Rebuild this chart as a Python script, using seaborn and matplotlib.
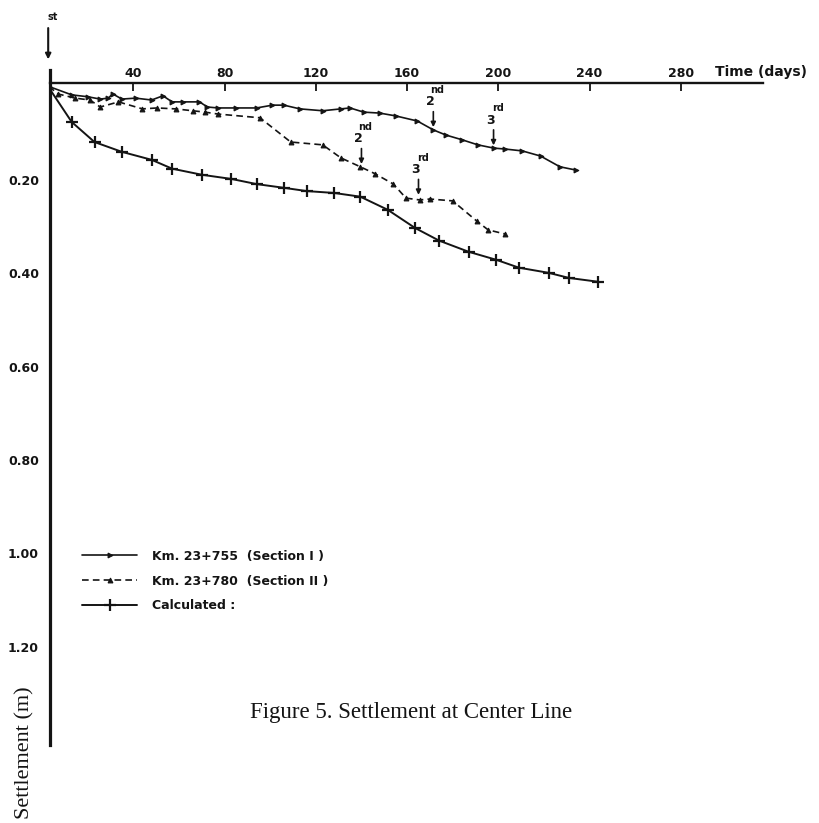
import numpy as np
import pandas as pd
import seaborn as sns
import matplotlib.pyplot as plt

# Settlement readings (days, metres)
days_sec1 = [3, 13, 20, 25.5, 29, 31, 35, 41, 48, 53, 57, 62, 69, 72.5, 77, 85, 94, 101, 106, 113,
             123, 131, 135, 141, 148, 155, 164.5, 171.5, 177, 184, 191, 198, 203, 210.5, 218.5, 227, 234]
settle_sec1 = [0.0, 0.018, 0.022, 0.027, 0.025, 0.016, 0.027, 0.025, 0.029, 0.020, 0.033, 0.033, 0.033,
               0.044, 0.046, 0.046, 0.046, 0.040, 0.040, 0.048, 0.052, 0.048, 0.046, 0.055, 0.057, 0.063,
               0.074, 0.093, 0.104, 0.114, 0.125, 0.132, 0.134, 0.138, 0.149, 0.172, 0.179]

days_sec2 = [3, 7, 14.5, 21, 25.5, 33.5, 44, 50.5, 58.5, 66, 71.5, 77, 95.5, 109, 123, 131, 139.5,
             146, 154, 159.5, 165.5, 170, 180, 190.5, 195.5, 203]
settle_sec2 = [0.0, 0.016, 0.025, 0.029, 0.044, 0.033, 0.048, 0.046, 0.048, 0.052, 0.055, 0.059, 0.067,
               0.119, 0.125, 0.153, 0.172, 0.187, 0.209, 0.239, 0.243, 0.241, 0.245, 0.288, 0.307, 0.316]

days_calc = [4, 13, 23, 35, 48, 57, 70, 83, 94, 106, 116, 128, 139.5, 151.5, 163.5, 174, 187, 199,
             209, 222, 231, 243.5]
settle_calc = [0.01, 0.076, 0.119, 0.140, 0.157, 0.176, 0.189, 0.198, 0.209, 0.217, 0.224, 0.228,
               0.236, 0.264, 0.303, 0.330, 0.354, 0.371, 0.388, 0.399, 0.410, 0.418]

x_ticks = [40, 80, 120, 160, 200, 240, 280]
y_ticks = [0.20, 0.40, 0.60, 0.80, 1.00, 1.20]

# loading stages: (day, settlement at arrow tip, number, suffix)
stages = [(171.5, 0.093, '2', 'nd'), (197.9, 0.132, '3', 'rd'),
          (140.0, 0.172, '2', 'nd'), (165.0, 0.238, '3', 'rd')]

labels = ['Km. 23+755  (Section I )', 'Km. 23+780  (Section II )', 'Calculated :']

sns.set_style('white')
ink = '#141414'

fig = plt.figure(figsize=(8.2, 8.23), dpi=100)
ax = fig.add_axes([0.061, 0.0948, 0.8695, 0.820])

sns.lineplot(x=days_sec1, y=settle_sec1, ax=ax, color=ink, lw=1.2, marker='>', ms=3.5,
             mec=ink, label=labels[0])
sns.lineplot(x=days_sec2, y=settle_sec2, ax=ax, color=ink, lw=1.2, linestyle=(0, (4, 2.5)),
             marker='^', ms=3.5, mec=ink, label=labels[1])
sns.lineplot(x=days_calc, y=settle_calc, ax=ax, color=ink, lw=1.4, marker='+', ms=9, mew=1.6,
             mec=ink, markevery=list(range(1, len(days_calc))), label=labels[2])

ax.set_xlim(3.5, 316)
ax.set_ylim(1.41, -0.035)

for s in ['right', 'bottom']:
    ax.spines[s].set_visible(False)
ax.spines['left'].set_linewidth(2.3)
ax.spines['left'].set_color(ink)
ax.spines['top'].set_position(('data', -0.007))
ax.spines['top'].set_linewidth(1.7)
ax.spines['top'].set_color(ink)

ax.xaxis.tick_top()
ax.set_xticks(x_ticks)
ax.set_xticklabels([str(t) for t in x_ticks], fontsize=9, fontweight='bold', color=ink)
ax.tick_params(axis='x', direction='in', length=6, width=1.3, pad=2, colors=ink)
ax.set_yticks(y_ticks)
ax.set_yticklabels([f'{t:.2f}' for t in y_ticks], fontsize=9, fontweight='bold', color=ink)
ax.tick_params(axis='y', direction='in', length=4, width=1.5, pad=8, colors=ink)
ax.set_xlabel('')
ax.set_ylabel('')

ax.text(295, -0.031, 'Time (days)', fontsize=10, fontweight='bold', color=ink,
        ha='left', va='center', clip_on=False)

# stage arrows
for day, tip, num, suf in stages:
    ax.annotate('', xy=(day, tip), xytext=(day, tip - 0.045),
                arrowprops=dict(arrowstyle='-|>', lw=1.2, color=ink, mutation_scale=7))
    ax.text(day - 1.2, tip - 0.06, num, fontsize=9, fontweight='bold', color=ink,
            ha='center', va='center')
    ax.text(day + 1.8, tip - 0.085, suf, fontsize=7, fontweight='bold', color=ink,
            ha='center', va='center')

ax.annotate('', xy=(2.7, -0.052), xytext=(2.7, -0.131), annotation_clip=False,
            arrowprops=dict(arrowstyle='-|>', lw=1.5, color=ink, mutation_scale=8))
ax.text(4.5, -0.149, 'st', fontsize=7, fontweight='bold', color=ink, ha='center',
        va='center', clip_on=False)

leg = ax.legend(loc='center left', bbox_to_anchor=(82 / 820, 0.294), bbox_transform=fig.transFigure,
                frameon=False, fontsize=9, handlelength=4.4, handletextpad=1.2,
                labelspacing=0.95, borderpad=0, borderaxespad=0)
for t in leg.get_texts():
    t.set_fontweight('bold')
    t.set_color(ink)

fig.text(0.305, 0.1337, 'Figure 5. Settlement at Center Line', family='Liberation Serif',
         fontsize=16.5, color=ink, ha='left', va='center')
fig.text(0.030, 0.085, 'Settlement (m)', family='Liberation Serif', fontsize=16,
         color=ink, rotation=90, ha='center', va='center')

fig.savefig('out.png', dpi=100)
